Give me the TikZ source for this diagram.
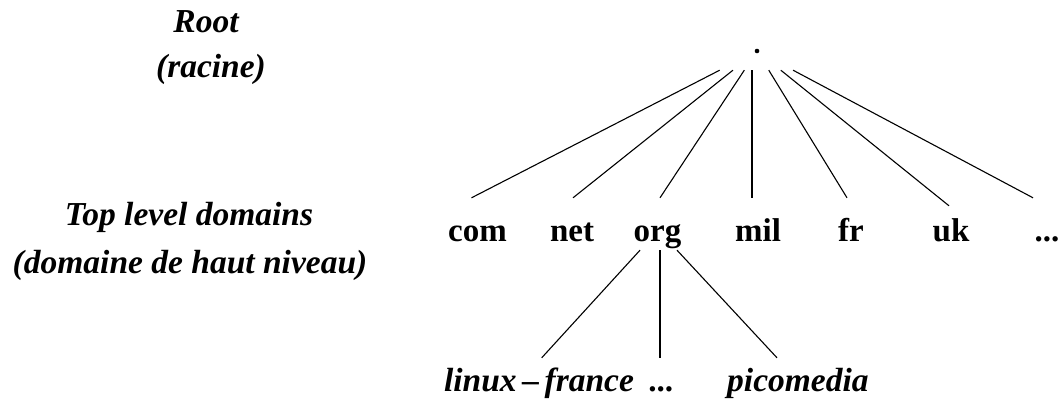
\documentclass[tikz,border=0pt]{standalone}
\usepackage{fontspec}
\setmainfont{Liberation Serif}
\newcommand\labfont{\fontsize{33.5}{40}\selectfont\bfseries\itshape}
\newcommand\domfont{\fontsize{33}{40}\selectfont\bfseries}
\begin{document}
\begin{tikzpicture}[x=1pt,y=-1pt,
  edge/.style={line width=1.1pt},
  lab/.style={font=\labfont, inner sep=0pt, anchor=base},
  tld/.style={font=\domfont, inner sep=0pt, anchor=base, text height=43pt, text depth=9pt},
  leaf/.style={font=\labfont, inner sep=0pt, anchor=base, text height=33pt},
  hub/.style={inner sep=0pt, minimum width=90pt, minimum height=38pt}]
\useasboundingbox (0,0) rectangle (1062,401);

% level captions on the left
\node[lab] (root-cap) at (206,33) {Root};
\node[lab] (root-fr) at (211,78) {(racine)};
\node[lab] (tld-cap) at (189,225) {Top level domains};
\node[lab] (tld-fr) at (190,273) {(domaine de haut niveau)};

% the root of the tree
\node[hub] (root) at (757,51) {};
\fill (root.center) circle (2.3);

% top level domains
\node[tld] (com) at (477.5,241) {com};
\node[tld] (net) at (572,241) {net};
\node[tld] (org) at (657.5,241) {org};
\node[tld] (mil) at (758,241) {mil};
\node[tld] (fr) at (851,241) {fr};
\node[tld] (uk) at (951,241) {uk};
\node[tld] (more) at (1047,241) {...};

% second level under org
\node[leaf] (linux) at (539,391) {linux\,--\,france};
\node[leaf] (odots) at (662,391) {\domfont ...};
\node[leaf, anchor=base west] (pico) at (727,391) {picomedia};

% branches from the root
\draw[edge] (root) -- ([xshift=-6pt]com.north);
\draw[edge] (root) -- ([xshift=1pt]net.north);
\draw[edge] (root) -- ([xshift=2.5pt]org.north);
\draw[edge] ([xshift=-6pt]mil.north |- root.south) -- ([xshift=-6pt]mil.north);
\draw[edge] (root) -- ([xshift=-4pt]fr.north);
\draw[edge] (root) -- ([xshift=-2pt,yshift=-8pt]uk.north);
\draw[edge] (root) -- ([xshift=-14pt]more.north);

% branches from org
\draw[edge] ([xshift=-17.5pt]org.south) -- ([xshift=2.7pt]linux.north);
\draw[edge] ([xshift=2.5pt]org.south) -- ([xshift=-2pt]odots.north);
\draw[edge] ([xshift=19.5pt]org.south) -- ([xshift=50pt]pico.north west);
\end{tikzpicture}
\end{document}
